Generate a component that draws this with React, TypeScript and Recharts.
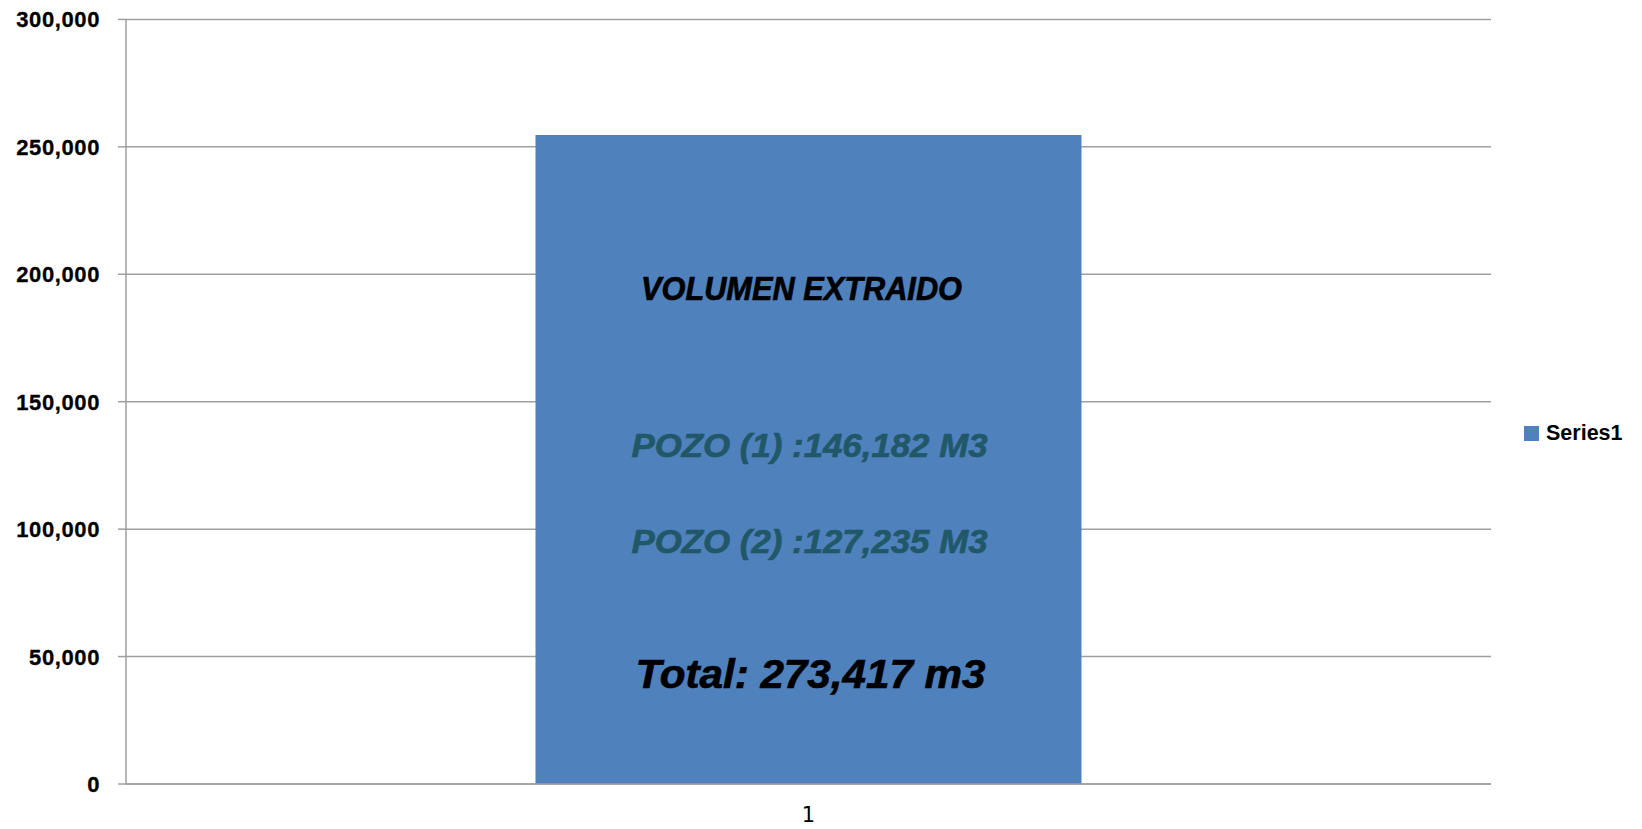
import React from 'react';
import {
  BarChart,
  Bar,
  XAxis,
  YAxis,
  CartesianGrid,
  Legend,
  ReferenceDot,
} from 'recharts';

// ---- data ----
const categories = ['1'];
const seriesName = 'Series1';
const seriesValues = [254600];
const yTicks = [0, 50000, 100000, 150000, 200000, 250000, 300000];
const edgeTicks = [0, 1];

// text boxes drawn over the bar (anchored in data units on the value axis)
const annotationTexts = [
  'VOLUMEN EXTRAIDO',
  'POZO (1) :146,182 M3',
  'POZO (2) :127,235 M3',
  'Total: 273,417 m3',
];
const annotationAnchors = [189900, 128300, 90500, 37700];
const annotationColors = ['#000000', '#215868', '#215868', '#000000'];
const annotationSizes = [33, 34, 34, 41];
const annotationLengths = [321, 356, 356, 350];
const annotationShift = [-7, 1, 1, 2];

const data = categories.map((c, i) => ({ name: c, value: seriesValues[i] }));

const GRID = '#9f9f9f';
const BAR = '#4F81BD';
const LABEL_FONT = "'Liberation Sans', Arial, sans-serif";
const fmt = (v: number) => v.toLocaleString('en-US');

const makeLabel = (i: number) => (props: any) => {
  const vb = props.viewBox || {};
  const cx = (vb.x || 0) + (vb.width || 0) / 2;
  const cy = (vb.y || 0) + (vb.height || 0) / 2;
  return (
    <text
      x={cx + annotationShift[i]}
      y={cy}
      textAnchor="middle"
      fill={annotationColors[i]}
      stroke={annotationColors[i]}
      strokeWidth={0.7}
      fontSize={annotationSizes[i]}
      fontWeight="bold"
      fontStyle="italic"
      fontFamily="'Liberation Sans Narrow', 'Liberation Sans', Arial, sans-serif"
      textLength={annotationLengths[i]}
      lengthAdjust="spacingAndGlyphs"
    >
      {annotationTexts[i]}
    </text>
  );
};

const YTick = (props: any) => {
  const { x, y, payload } = props;
  return (
    <text
      x={x}
      y={y}
      dy={8}
      textAnchor="end"
      fill="#000"
      stroke="#000"
      strokeWidth={0.3}
      fontSize={22}
      fontWeight="bold"
      fontFamily={LABEL_FONT}
      letterSpacing={0.6}
    >
      {fmt(payload.value)}
    </text>
  );
};

const LegendContent = () => (
  <div style={{ display: 'flex', alignItems: 'center' }}>
    <div style={{ width: 15, height: 15, background: BAR, marginRight: 7 }} />
    <span
      style={{
        fontFamily: LABEL_FONT,
        fontWeight: 'bold',
        fontSize: 21.5,
        color: '#000',
        lineHeight: '15px',
        whiteSpace: 'nowrap',
      }}
    >
      {seriesName}
    </span>
  </div>
);

export default function App() {
  return (
    <div style={{ position: 'absolute', left: 0, top: 0, width: 1642, height: 829, background: '#fff' }}>
      <BarChart
        width={1642}
        height={829}
        data={data}
        margin={{ top: 19.4, right: 151, bottom: 0, left: 0 }}
        barCategoryGap="30%"
      >
        <CartesianGrid horizontal vertical={false} stroke={GRID} strokeWidth={1.5} />
        <XAxis
          xAxisId="cat"
          dataKey="name"
          height={36}
          tickLine={false}
          tickSize={0}
          tickMargin={14}
          axisLine={false}
          tick={{ fill: '#000', fontSize: 21, fontFamily: "'DejaVu Sans', sans-serif" }}
        />
        <XAxis
          xAxisId={0}
          type="number"
          domain={[0, 1]}
          allowDataOverflow
          ticks={edgeTicks}
          height={9}
          tick={false}
          axisLine={{ stroke: GRID, strokeWidth: 1.5 }}
          tickSize={9}
          tickLine={{ stroke: GRID, strokeWidth: 1.5 }}
        />
        <YAxis
          width={126}
          domain={[0, 300000]}
          ticks={yTicks}
          interval={0}
          tickSize={8}
          tickMargin={18}
          axisLine={{ stroke: GRID, strokeWidth: 1.5 }}
          tickLine={{ stroke: GRID, strokeWidth: 1.5 }}
          tick={<YTick />}
        />
        <Legend
          layout="vertical"
          align="center"
          verticalAlign="middle"
          content={<LegendContent />}
          wrapperStyle={{ left: 1524, top: 426, width: 118, height: 15 }}
        />
        <Bar xAxisId="cat" dataKey="value" name={seriesName} fill={BAR} isAnimationActive={false} />
        {annotationTexts.map((t, i) => (
          <ReferenceDot
            key={t}
            xAxisId="cat"
            x={categories[0]}
            y={annotationAnchors[i]}
            r={0}
            fill="none"
            stroke="none"
            ifOverflow="visible"
            label={makeLabel(i)}
          />
        ))}
      </BarChart>
    </div>
  );
}
